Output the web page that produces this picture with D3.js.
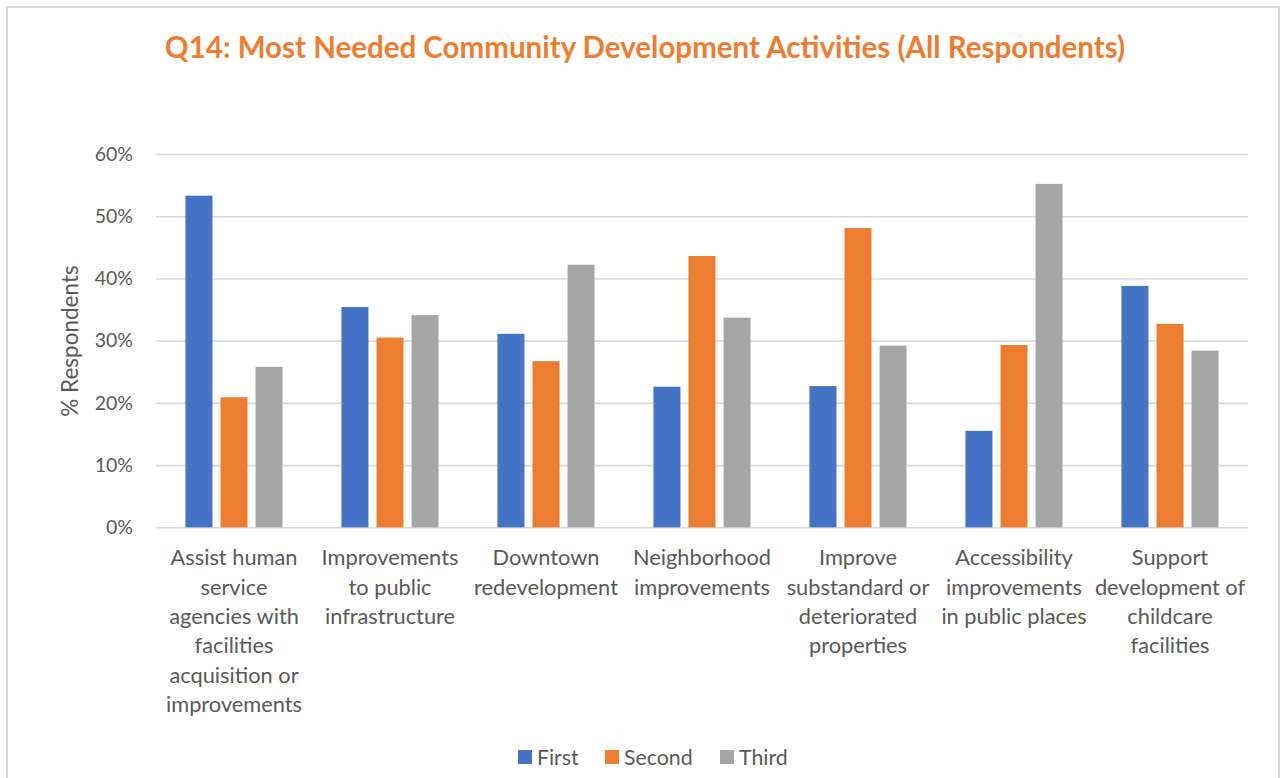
<!DOCTYPE html>
<html>
<head>
<meta charset="utf-8">
<script src="https://cdn.jsdelivr.net/npm/d3@7"></script>
<style>
  html, body { margin: 0; padding: 0; background: #fff; }
  svg { display: block; }
  text { font-family: Lato, "Open Sans", sans-serif; }
</style>
</head>
<body>
<svg id="chart" width="1280" height="778"></svg>
<script>
const title = "Q14: Most Needed Community Development Activities (All Respondents)";
const categories = [
  "Assist human service agencies with facilities acquisition or improvements",
  "Improvements to public infrastructure",
  "Downtown redevelopment",
  "Neighborhood improvements",
  "Improve substandard or deteriorated properties",
  "Accessibility improvements in public places",
  "Support development of childcare facilities"
];
const categoryLines = [
  ["Assist human", "service", "agencies with", "facilities", "acquisition or", "improvements"],
  ["Improvements", "to public", "infrastructure"],
  ["Downtown", "redevelopment"],
  ["Neighborhood", "improvements"],
  ["Improve", "substandard or", "deteriorated", "properties"],
  ["Accessibility", "improvements", "in public places"],
  ["Support", "development of", "childcare", "facilities"]
];
const seriesNames = ["First", "Second", "Third"];
const firstValues  = [0.533, 0.354, 0.311, 0.226, 0.227, 0.155, 0.388];
const secondValues = [0.209, 0.305, 0.267, 0.436, 0.481, 0.293, 0.327];
const thirdValues  = [0.258, 0.341, 0.422, 0.337, 0.292, 0.552, 0.284];
const seriesColors = ["#4472C4", "#ED7D31", "#A5A5A5"];
const yTicks = [0, 0.1, 0.2, 0.3, 0.4, 0.5, 0.6];
const yTitle = "% Respondents";

const seriesValues = [firstValues, secondValues, thirdValues];
const svg = d3.select("#chart");

// chart frame
svg.append("path")
  .attr("d", "M7,778 V7 H1279 V778")
  .attr("fill", "none").attr("stroke", "#d9d9d9").attr("stroke-width", 2);

const plotLeft = 156, plotRight = 1248, plotTop = 154, plotBottom = 527.3;

const x0 = d3.scaleBand().domain(categories).range([plotLeft, plotRight]).padding(0);
const x1 = d3.scaleBand().domain(seriesNames).range([0, x0.bandwidth()])
  .paddingInner(0.23).paddingOuter(0.84);
const y = d3.scaleLinear().domain([0, 0.6]).range([plotBottom, plotTop]);

// gridlines
const yAxis = d3.axisLeft(y).tickValues(yTicks).tickFormat(d3.format(".0%"))
  .tickSize(-(plotRight - plotLeft)).tickPadding(23);
const gy = svg.append("g").attr("transform", `translate(${plotLeft},0)`).call(yAxis);
gy.select(".domain").remove();
gy.selectAll(".tick line").attr("stroke", "#d9d9d9").attr("stroke-width", 1.6);
gy.selectAll(".tick text").attr("fill", "#595959").style("font-size", "19.5px")
  .style("font-family", "Lato, 'Open Sans', sans-serif");

// bars
const groups = svg.append("g").selectAll("g")
  .data(categories).join("g")
  .attr("transform", d => `translate(${x0(d)},0)`);
groups.selectAll("rect")
  .data((d, i) => seriesNames.map((s, j) => ({ s, v: seriesValues[j][i], c: seriesColors[j] })))
  .join("rect")
  .attr("x", d => x1(d.s))
  .attr("width", x1.bandwidth())
  .attr("y", d => y(d.v))
  .attr("height", d => y(0) - y(d.v))
  .attr("fill", d => d.c);

// category labels
const xAxis = d3.axisBottom(x0).tickSize(0).tickFormat("");
const gx = svg.append("g").attr("transform", `translate(0,${plotBottom})`).call(xAxis);
gx.select(".domain").remove();
gx.selectAll(".tick").each(function(d, i) {
  const t = d3.select(this).append("text")
    .attr("text-anchor", "middle").attr("fill", "#595959")
    .style("font-size", "21.8px");
  categoryLines[i].forEach((line, k) => {
    t.append("tspan").attr("x", 0).attr("y", 38 + k * 29.4).text(line);
  });
});

// y-axis title
svg.append("text")
  .attr("transform", "translate(78,341) rotate(-90)")
  .attr("text-anchor", "middle").attr("fill", "#595959")
  .style("font-size", "22.5px").text(yTitle);

// title
svg.append("text")
  .attr("x", 645).attr("y", 58)
  .attr("text-anchor", "middle").attr("fill", "#ED7D31")
  .style("font-size", "29.5px").style("font-weight", "bold")
  .text(title);

// legend
const legendX = [518, 605, 720];
const legend = svg.append("g").selectAll("g").data(seriesNames).join("g")
  .attr("transform", (d, i) => `translate(${legendX[i]},750)`);
legend.append("rect").attr("width", 14).attr("height", 14)
  .attr("fill", (d, i) => seriesColors[i]);
legend.append("text").attr("x", 19).attr("y", 15).attr("fill", "#595959")
  .style("font-size", "21.3px").text(d => d);
</script>
</body>
</html>
